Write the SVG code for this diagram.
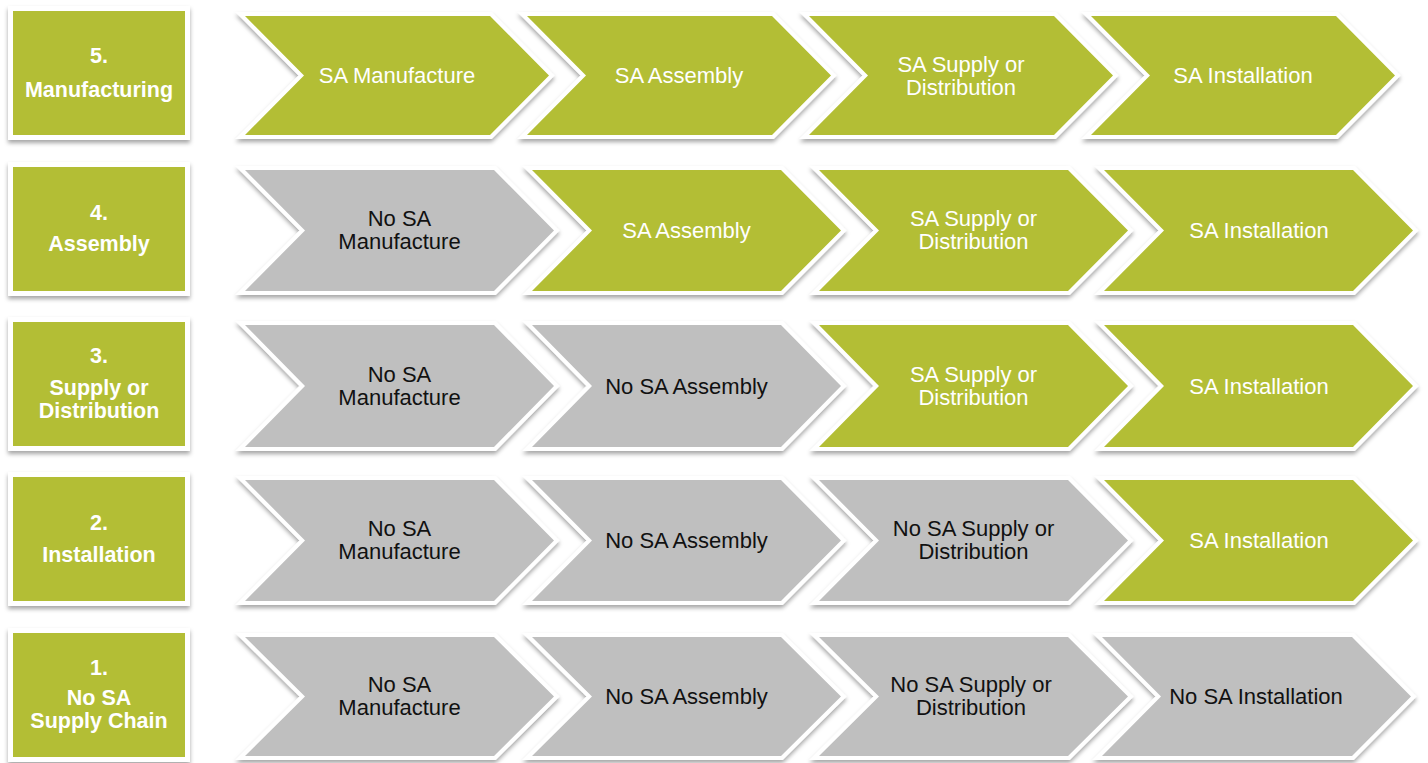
<svg xmlns="http://www.w3.org/2000/svg" width="1428" height="763" viewBox="0 0 1428 763">
<defs>
<filter id="sh" x="-10%" y="-15%" width="120%" height="140%">
<feDropShadow dx="0" dy="3" stdDeviation="2" flood-color="#000" flood-opacity="0.35"/>
</filter>
<style>
.box{fill:#B3BE34;stroke:#fff;stroke-width:10;paint-order:stroke;filter:url(#sh)}
.g{fill:#B3BE34;stroke:#fff;stroke-width:8;paint-order:stroke;stroke-linejoin:miter;stroke-miterlimit:10;filter:url(#sh)}
.n{fill:#BFBFBF;stroke:#fff;stroke-width:8;paint-order:stroke;stroke-linejoin:miter;stroke-miterlimit:10;filter:url(#sh)}
.bt{font-family:"Liberation Sans",Arial,sans-serif;font-weight:bold;font-size:21.5px;fill:#fff;text-anchor:middle}
.wt{font-family:"Liberation Sans",Arial,sans-serif;font-size:22px;fill:#fff;text-anchor:middle}
.kt{font-family:"Liberation Sans",Arial,sans-serif;font-size:22px;fill:#111;text-anchor:middle}
</style>
</defs>
<rect width="1428" height="763" fill="#fff"/>

<!-- Left level boxes -->
<g id="level5"><rect class="box" x="13" y="11" width="172" height="124"/><text class="bt" x="99" y="63">5.</text><text class="bt" x="99" y="97">Manufacturing</text></g>
<g id="level4"><rect class="box" x="13" y="167" width="172" height="124"/><text class="bt" x="99" y="220">4.</text><text class="bt" x="99" y="251">Assembly</text></g>
<g id="level3"><rect class="box" x="13" y="322" width="172" height="124"/><text class="bt" x="99" y="363">3.</text><text class="bt" x="99" y="395">Supply or</text><text class="bt" x="99" y="418">Distribution</text></g>
<g id="level2"><rect class="box" x="13" y="477" width="172" height="124"/><text class="bt" x="99" y="530">2.</text><text class="bt" x="99" y="562">Installation</text></g>
<g id="level1"><rect class="box" x="13" y="633" width="172" height="124"/><text class="bt" x="99" y="675">1.</text><text class="bt" x="99" y="705">No SA</text><text class="bt" x="99" y="728">Supply Chain</text></g>

<!-- Row 1 (level 5) -->
<g id="r5c1"><path class="g" d="M245,16 H490 L549,75.5 L490,135 H245 L304,75.5 Z"/><text class="wt" x="397" y="83">SA Manufacture</text></g>
<g id="r5c2"><path class="g" d="M527,16 H772 L831,75.5 L772,135 H527 L586,75.5 Z"/><text class="wt" x="679" y="83">SA Assembly</text></g>
<g id="r5c3"><path class="g" d="M809,16 H1054 L1113,75.5 L1054,135 H809 L868,75.5 Z"/><text class="wt" x="961" y="72">SA Supply or</text><text class="wt" x="961" y="95">Distribution</text></g>
<g id="r5c4"><path class="g" d="M1091,16 H1336 L1395,75.5 L1336,135 H1091 L1150,75.5 Z"/><text class="wt" x="1243" y="83">SA Installation</text></g>

<!-- Row 2 (level 4) -->
<g id="r4c1"><path class="n" d="M245,170 H494 L554,230.5 L494,291 H245 L305,230.5 Z"/><text class="kt" x="399.5" y="226">No SA</text><text class="kt" x="399.5" y="249">Manufacture</text></g>
<g id="r4c2"><path class="g" d="M532,170 H781 L841,230.5 L781,291 H532 L592,230.5 Z"/><text class="wt" x="686.5" y="238">SA Assembly</text></g>
<g id="r4c3"><path class="g" d="M819,170 H1068 L1128,230.5 L1068,291 H819 L879,230.5 Z"/><text class="wt" x="973.5" y="226">SA Supply or</text><text class="wt" x="973.5" y="249">Distribution</text></g>
<g id="r4c4"><path class="g" d="M1104,170 H1353 L1413,230.5 L1353,291 H1104 L1164,230.5 Z"/><text class="wt" x="1259" y="238">SA Installation</text></g>

<!-- Row 3 (level 3) -->
<g id="r3c1"><path class="n" d="M245,325 H494 L554,386 L494,447 H245 L305,386 Z"/><text class="kt" x="399.5" y="381.5">No SA</text><text class="kt" x="399.5" y="404.5">Manufacture</text></g>
<g id="r3c2"><path class="n" d="M532,325 H781 L841,386 L781,447 H532 L592,386 Z"/><text class="kt" x="686.5" y="393.5">No SA Assembly</text></g>
<g id="r3c3"><path class="g" d="M819,325 H1068 L1128,386 L1068,447 H819 L879,386 Z"/><text class="wt" x="973.5" y="381.5">SA Supply or</text><text class="wt" x="973.5" y="404.5">Distribution</text></g>
<g id="r3c4"><path class="g" d="M1104,325 H1353 L1413,386 L1353,447 H1104 L1164,386 Z"/><text class="wt" x="1259" y="393.5">SA Installation</text></g>

<!-- Row 4 (level 2) -->
<g id="r2c1"><path class="n" d="M245,480 H494 L554,540.5 L494,601 H245 L305,540.5 Z"/><text class="kt" x="399.5" y="536">No SA</text><text class="kt" x="399.5" y="559">Manufacture</text></g>
<g id="r2c2"><path class="n" d="M532,480 H781 L841,540.5 L781,601 H532 L592,540.5 Z"/><text class="kt" x="686.5" y="548">No SA Assembly</text></g>
<g id="r2c3"><path class="n" d="M819,480 H1068 L1128,540.5 L1068,601 H819 L879,540.5 Z"/><text class="kt" x="973.5" y="536">No SA Supply or</text><text class="kt" x="973.5" y="559">Distribution</text></g>
<g id="r2c4"><path class="g" d="M1104,480 H1353 L1413,540.5 L1353,601 H1104 L1164,540.5 Z"/><text class="wt" x="1259" y="548">SA Installation</text></g>

<!-- Row 5 (level 1) -->
<g id="r1c1"><path class="n" d="M245,637 H494 L554,696.5 L494,756 H245 L305,696.5 Z"/><text class="kt" x="399.5" y="692">No SA</text><text class="kt" x="399.5" y="715">Manufacture</text></g>
<g id="r1c2"><path class="n" d="M532,637 H781 L841,696.5 L781,756 H532 L592,696.5 Z"/><text class="kt" x="686.5" y="704">No SA Assembly</text></g>
<g id="r1c3"><path class="n" d="M819,637 H1068 L1128,696.5 L1068,756 H819 L879,696.5 Z"/><text class="kt" x="971" y="692">No SA Supply or</text><text class="kt" x="971" y="715">Distribution</text></g>
<g id="r1c4"><path class="n" d="M1102,637 H1352 L1411,696.5 L1352,756 H1102 L1161,696.5 Z"/><text class="kt" x="1256" y="704">No SA Installation</text></g>

<g id="connectors"/>
</svg>
